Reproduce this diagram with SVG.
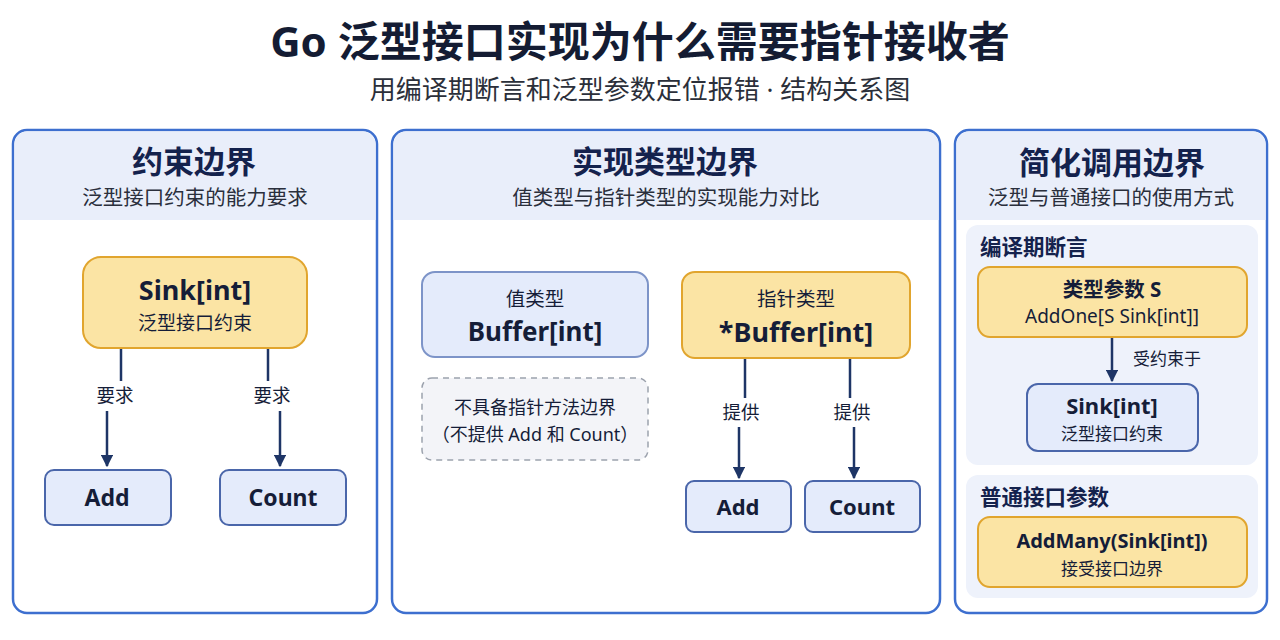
<svg xmlns="http://www.w3.org/2000/svg" width="1280" height="640" viewBox="0 0 1280 640">
<defs>
<marker id="arr" viewBox="0 0 10 10" refX="9" refY="5" markerWidth="5" markerHeight="5" markerUnits="strokeWidth" orient="auto">
<path d="M0,0 L10,5 L0,10 z" fill="#1e3566"/>
</marker>
<style>
text{font-family:"Noto Sans","Noto Sans CJK SC",sans-serif;fill:#151d38;text-anchor:middle}
.title{font-size:42px;font-weight:700;fill:#141c33}
.sub{font-size:26px;fill:#2b2f3a}
.panel{fill:#ffffff;stroke:#3d6fcf;stroke-width:2.5}
.band{fill:#e9eefa}
.ptitle{font-size:31px;font-weight:700;fill:#14224d}
.psub{font-size:20.5px;fill:#2a2f3c}
.yel{fill:#fbe4a4;stroke:#e1a52e;stroke-width:2}
.blu{fill:#e4ebfb;stroke:#4a66aa;stroke-width:2}
.dash{fill:#f3f4f8;stroke:#9ca2ad;stroke-width:1.5;stroke-dasharray:6 5}
.sec{fill:#eef2fb}
.b{font-weight:700}
.lbl{font-size:18.5px;fill:#151d38}
.conn line{stroke:#1e3566;stroke-width:2.5}
.sect{font-size:21.5px;font-weight:700;fill:#14224d;text-anchor:start}
</style>
</defs>
<rect width="1280" height="640" fill="#ffffff"/>
<text class="title" x="640" y="57">Go 泛型接口实现为什么需要指针接收者</text>
<text class="sub" x="640" y="99">用编译期断言和泛型参数定位报错 · 结构关系图</text>

<g id="panel-constraint">
<rect class="panel" x="13" y="130" width="364" height="483" rx="14"/>
<path class="band" d="M27,131.5 H363 A12.5,12.5 0 0 1 375.5,144 V220 H14.5 V144 A12.5,12.5 0 0 1 27,131.5 Z"/>
<text class="ptitle" x="194" y="173">约束边界</text>
<text class="psub" x="195" y="205">泛型接口约束的能力要求</text>
</g>
<g id="panel-impl">
<rect class="panel" x="392" y="130" width="548" height="483" rx="14"/>
<path class="band" d="M406,131.5 H926 A12.5,12.5 0 0 1 938.5,144 V220 H393.5 V144 A12.5,12.5 0 0 1 406,131.5 Z"/>
<text class="ptitle" x="665" y="173">实现类型边界</text>
<text class="psub" x="666" y="205">值类型与指针类型的实现能力对比</text>
</g>
<g id="panel-call">
<rect class="panel" x="955" y="130" width="312" height="483" rx="14"/>
<path class="band" d="M969,131.5 H1253 A12.5,12.5 0 0 1 1265.5,144 V220 H956.5 V144 A12.5,12.5 0 0 1 969,131.5 Z"/>
<text class="ptitle" x="1112" y="174">简化调用边界</text>
<text class="psub" x="1111" y="205">泛型与普通接口的使用方式</text>
<rect class="sec" x="966" y="225" width="292" height="240" rx="12"/>
<text class="sect" x="980" y="255">编译期断言</text>
<rect class="sec" x="966" y="475" width="292" height="123" rx="12"/>
<text class="sect" x="980" y="505">普通接口参数</text>
</g>

<g class="conn" id="connectors">
<line x1="121" y1="349" x2="121" y2="381"/>
<line x1="107" y1="411" x2="107" y2="466" marker-end="url(#arr)"/>
<line x1="268" y1="349" x2="268" y2="381"/>
<line x1="280" y1="411" x2="280" y2="466" marker-end="url(#arr)"/>
<line x1="745" y1="359" x2="745" y2="398"/>
<line x1="739" y1="427" x2="739" y2="478" marker-end="url(#arr)"/>
<line x1="850" y1="359" x2="850" y2="398"/>
<line x1="854" y1="427" x2="854" y2="478" marker-end="url(#arr)"/>
<line x1="1112" y1="338" x2="1112" y2="381" marker-end="url(#arr)"/>
</g>
<g id="conn-labels">
<text class="lbl" x="115" y="402">要求</text>
<text class="lbl" x="272" y="402">要求</text>
<text class="lbl" x="741" y="419">提供</text>
<text class="lbl" x="852" y="419">提供</text>
<text class="lbl" x="1167" y="365" style="font-size:17px">受约束于</text>
</g>

<g id="node-sink1">
<rect class="yel" x="83" y="257" width="224" height="91" rx="18"/>
<text class="b" x="195" y="300" style="font-size:27px">Sink[int]</text>
<text x="195" y="330" style="font-size:19px">泛型接口约束</text>
</g>
<g id="node-add1">
<rect class="blu" x="45" y="470" width="126" height="55" rx="9"/>
<text class="b" x="107" y="506" style="font-size:23px">Add</text>
</g>
<g id="node-count1">
<rect class="blu" x="220" y="470" width="126" height="55" rx="9"/>
<text class="b" x="283" y="506" style="font-size:23px">Count</text>
</g>

<g id="node-value">
<rect class="blu" x="422" y="272" width="226" height="85" rx="13" style="stroke:#7d94c8"/>
<text x="535" y="306" style="font-size:19.5px">值类型</text>
<text class="b" x="535" y="341" style="font-size:26px">Buffer[int]</text>
</g>
<g id="node-nopointer">
<rect class="dash" x="422" y="378" width="226" height="82" rx="10"/>
<text x="535" y="414" style="font-size:18px">不具备指针方法边界</text>
<text x="535" y="441" style="font-size:18px">（不提供 Add 和 Count）</text>
</g>
<g id="node-pointer">
<rect class="yel" x="682" y="272" width="228" height="86" rx="13"/>
<text x="796" y="306" style="font-size:19.5px">指针类型</text>
<text class="b" x="796" y="342" style="font-size:27px">*Buffer[int]</text>
</g>
<g id="node-add2">
<rect class="blu" x="686" y="481" width="105" height="51" rx="8"/>
<text class="b" x="738" y="515" style="font-size:22px">Add</text>
</g>
<g id="node-count2">
<rect class="blu" x="805" y="481" width="115" height="51" rx="8"/>
<text class="b" x="862" y="515" style="font-size:22px">Count</text>
</g>

<g id="node-typeparam">
<rect class="yel" x="978" y="267" width="269" height="70" rx="12"/>
<text class="b" x="1112" y="297" style="font-size:20.5px">类型参数 S</text>
<text x="1112" y="323" style="font-size:19px">AddOne[S Sink[int]]</text>
</g>
<g id="node-sink2">
<rect class="blu" x="1027" y="384" width="171" height="67" rx="11"/>
<text class="b" x="1112" y="414" style="font-size:22px">Sink[int]</text>
<text x="1112" y="440" style="font-size:17px">泛型接口约束</text>
</g>
<g id="node-addmany">
<rect class="yel" x="978" y="517" width="269" height="70" rx="12"/>
<text class="b" x="1112" y="548" style="font-size:20px">AddMany(Sink[int])</text>
<text x="1112" y="575" style="font-size:17px">接受接口边界</text>
</g>
</svg>
